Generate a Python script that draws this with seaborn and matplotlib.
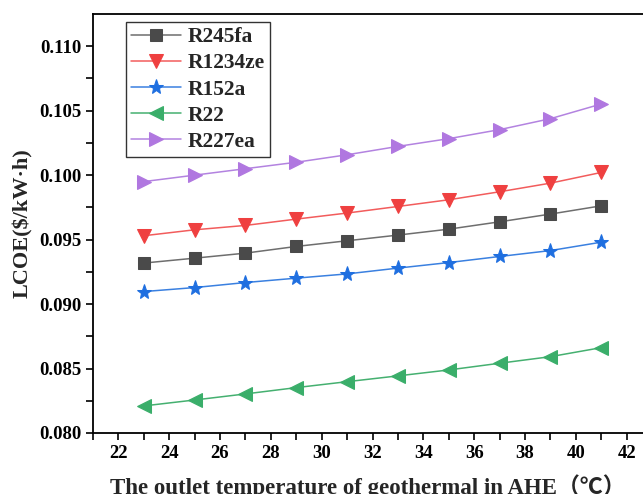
import pandas as pd
import seaborn as sns
import matplotlib.pyplot as plt

temps = [23, 25, 27, 29, 31, 33, 35, 37, 39, 41]
r245fa = [0.09318, 0.09356, 0.09395, 0.09447, 0.09491, 0.09535, 0.09581, 0.09638, 0.09698, 0.09762]
r1234ze = [0.09530, 0.09576, 0.09610, 0.09659, 0.09706, 0.09757, 0.09809, 0.09871, 0.09938, 0.10021]
r152a = [0.09097, 0.09128, 0.09167, 0.09201, 0.09234, 0.09279, 0.09322, 0.09369, 0.09415, 0.09480]
r22 = [0.08210, 0.08256, 0.08303, 0.08352, 0.08398, 0.08443, 0.08489, 0.08541, 0.08592, 0.08662]
r227ea = [0.09950, 0.10000, 0.10050, 0.10100, 0.10158, 0.10223, 0.10283, 0.10353, 0.10438, 0.10552]

names = ["R245fa", "R1234ze", "R152a", "R22", "R227ea"]
series = [r245fa, r1234ze, r152a, r22, r227ea]

rows = []
for name, vals in zip(names, series):
    for t, v in zip(temps, vals):
        rows.append({"fluid": name, "temp": t, "lcoe": v})
df = pd.DataFrame(rows)

line_colors = {"R245fa": "#6e6e6e", "R1234ze": "#f25c5c", "R152a": "#3a80e0",
               "R22": "#45b070", "R227ea": "#b383e0"}
marker_colors = {"R245fa": "#4a4a4a", "R1234ze": "#ef4040", "R152a": "#1f6fe0",
                 "R22": "#3aae6a", "R227ea": "#b077e0"}
markers = {"R245fa": "s", "R1234ze": "v", "R152a": "*", "R22": "<", "R227ea": ">"}
msizes = {"R245fa": 8, "R1234ze": 9.5, "R152a": 11, "R22": 9.5, "R227ea": 9.5}

sns.set_style("ticks")
plt.rcParams["font.family"] = ["Liberation Serif", "Noto Sans CJK SC", "DejaVu Sans"]
plt.rcParams["font.weight"] = "bold"

fig = plt.figure(figsize=(6.43, 4.94), dpi=100)
ax = fig.add_axes([0.1446, 0.1235, 0.8554, 0.8482])

for name in names:
    sub = df[df["fluid"] == name]
    sns.lineplot(data=sub, x="temp", y="lcoe", ax=ax, color=line_colors[name],
                 marker=markers[name], markersize=msizes[name],
                 markerfacecolor=marker_colors[name], markeredgecolor=marker_colors[name],
                 linewidth=1.1, label=name)

ax.set_xlim(21, 42.64)
ax.set_ylim(0.080, 0.1125)
ax.set_xticks(range(22, 43, 2))
ax.set_xticks(range(21, 43, 1), minor=True)
ax.set_yticks([0.080, 0.085, 0.090, 0.095, 0.100, 0.105, 0.110])
ax.set_yticks([0.0825, 0.0875, 0.0925, 0.0975, 0.1025, 0.1075], minor=True)
ax.set_yticklabels(["0.080", "0.085", "0.090", "0.095", "0.100", "0.105", "0.110"])
ax.tick_params(axis="both", which="both", direction="out", length=5, width=1.2,
               labelsize=13.5, colors="black")
for lab in ax.get_xticklabels() + ax.get_yticklabels():
    lab.set_fontweight("bold")

for s in ["left", "bottom", "top"]:
    ax.spines[s].set_linewidth(1.3)
    ax.spines[s].set_color("black")
ax.spines["right"].set_visible(False)

ax.set_xlabel("The outlet temperature of geothermal in AHE（℃）", fontsize=16.5,
              fontweight="bold", labelpad=9)
ax.set_ylabel("LCOE($/kW·h)", fontsize=16, fontweight="bold", labelpad=4)

leg = ax.legend(loc="upper left", bbox_to_anchor=(0.06, 0.981), frameon=True,
                fancybox=False, edgecolor="black", prop={"size": 15.5, "weight": "bold"},
                handlelength=2.3, borderpad=0.25, labelspacing=0.28, handletextpad=0.3,
                borderaxespad=0)
leg.get_frame().set_linewidth(1.0)

fig.savefig("out.png", dpi=100)
